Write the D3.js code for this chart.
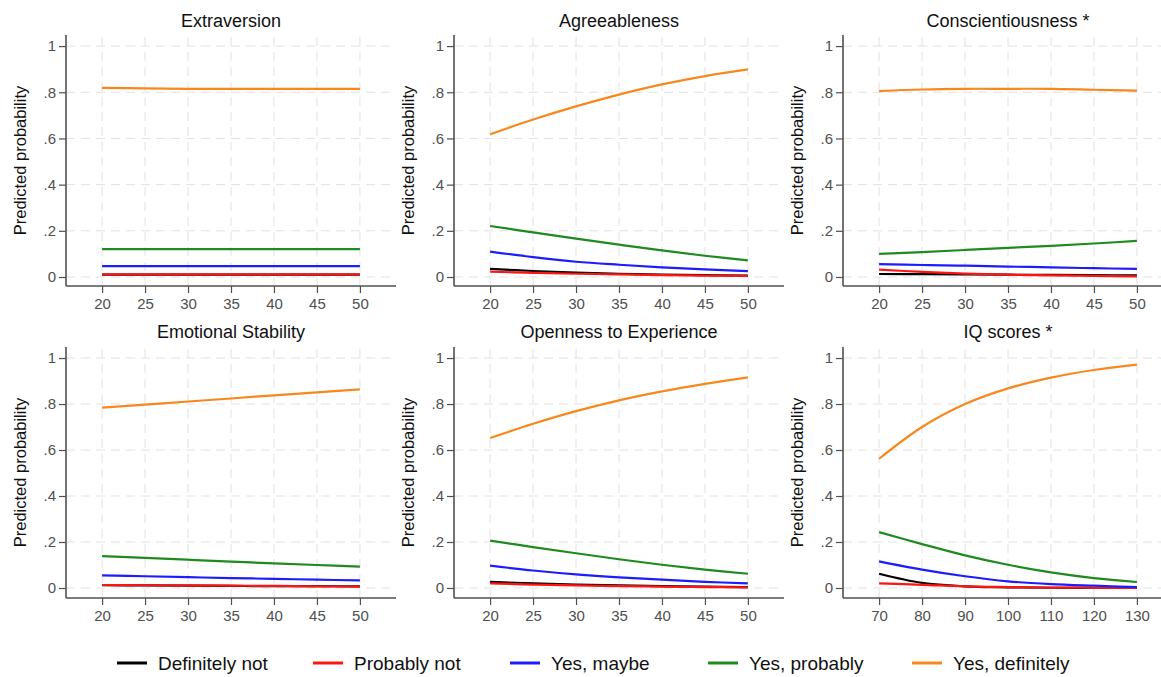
<!DOCTYPE html>
<meta charset="utf-8">
<html>
<script src="https://d3js.org/d3.v7.min.js"></script>
<style>
  body { margin: 0; background: #fff; }
  text { font-family: Arial, "Liberation Sans", sans-serif; }
</style>
<div id="chart"></div>
<script>

// outcome categories (legend) and line colours
var categories = ["Definitely not", "Probably not", "Yes, maybe", "Yes, probably", "Yes, definitely"];
var colors = ["#000000", "#ff1414", "#1c1cff", "#1f8a1f", "#f7881e"];

// x values
var ageX = [20, 25, 30, 35, 40, 45, 50];
var iqX = [70, 80, 90, 100, 110, 120, 130];
var ageTicks = [20, 25, 30, 35, 40, 45, 50];
var iqTicks = [70, 80, 90, 100, 110, 120, 130];
var yTicks = [0, 0.2, 0.4, 0.6, 0.8, 1];
var yTickLabels = ["0", ".2", ".4", ".6", ".8", "1"];

// predicted probabilities, one row per category (same order as categories)
var extraversion = [
  [0.010, 0.010, 0.010, 0.010, 0.010, 0.010, 0.010],
  [0.011, 0.011, 0.011, 0.011, 0.011, 0.011, 0.011],
  [0.047, 0.047, 0.047, 0.047, 0.047, 0.047, 0.047],
  [0.121, 0.121, 0.121, 0.121, 0.121, 0.121, 0.121],
  [0.819, 0.817, 0.815, 0.815, 0.815, 0.815, 0.815]
];
var agreeableness = [
  [0.035, 0.026, 0.019, 0.014, 0.010, 0.008, 0.006],
  [0.023, 0.018, 0.014, 0.011, 0.008, 0.006, 0.005],
  [0.110, 0.086, 0.066, 0.053, 0.042, 0.033, 0.025],
  [0.221, 0.193, 0.166, 0.140, 0.115, 0.092, 0.072],
  [0.618, 0.682, 0.739, 0.790, 0.834, 0.870, 0.899]
];
var conscientiousness = [
  [0.013, 0.012, 0.011, 0.010, 0.009, 0.008, 0.007],
  [0.032, 0.022, 0.015, 0.010, 0.007, 0.005, 0.003],
  [0.056, 0.052, 0.049, 0.045, 0.042, 0.038, 0.035],
  [0.100, 0.108, 0.117, 0.126, 0.135, 0.145, 0.156],
  [0.805, 0.812, 0.815, 0.815, 0.815, 0.811, 0.807]
];
var emotionalStability = [
  [0.012, 0.011, 0.010, 0.009, 0.008, 0.008, 0.007],
  [0.013, 0.012, 0.011, 0.010, 0.009, 0.007, 0.006],
  [0.055, 0.051, 0.047, 0.043, 0.040, 0.036, 0.033],
  [0.139, 0.131, 0.123, 0.115, 0.107, 0.100, 0.093],
  [0.784, 0.797, 0.811, 0.824, 0.838, 0.851, 0.864]
];
var openness = [
  [0.027, 0.020, 0.015, 0.011, 0.008, 0.006, 0.004],
  [0.020, 0.015, 0.011, 0.008, 0.006, 0.004, 0.003],
  [0.097, 0.076, 0.059, 0.046, 0.036, 0.027, 0.020],
  [0.206, 0.178, 0.151, 0.125, 0.101, 0.080, 0.062],
  [0.652, 0.714, 0.769, 0.816, 0.855, 0.888, 0.916]
];
var iqScores = [
  [0.062, 0.022, 0.007, 0.003, 0.001, 0.001, 0.001],
  [0.020, 0.014, 0.007, 0.004, 0.002, 0.001, 0.000],
  [0.116, 0.080, 0.051, 0.029, 0.017, 0.010, 0.004],
  [0.243, 0.191, 0.142, 0.101, 0.068, 0.043, 0.026],
  [0.562, 0.700, 0.800, 0.868, 0.915, 0.948, 0.971]
];

var panels = [
  {title: "Extraversion", x: ageX, ticks: ageTicks, vals: extraversion, col: 0, row: 0},
  {title: "Agreeableness", x: ageX, ticks: ageTicks, vals: agreeableness, col: 1, row: 0},
  {title: "Conscientiousness *", x: ageX, ticks: ageTicks, vals: conscientiousness, col: 2, row: 0},
  {title: "Emotional Stability", x: ageX, ticks: ageTicks, vals: emotionalStability, col: 0, row: 1},
  {title: "Openness to Experience", x: ageX, ticks: ageTicks, vals: openness, col: 1, row: 1},
  {title: "IQ scores *", x: iqX, ticks: iqTicks, vals: iqScores, col: 2, row: 1}
];

var width = 1161, height = 677;
var colLeft = [66, 454, 843];     // y axis position of each column
var plotW = 330;
var rows = [
  {bottom: 286, top: 35, dom: [-0.039, 1.048], titleY: 27, tickY: 308},
  {bottom: 598, top: 347, dom: [-0.0435, 1.048], titleY: 338, tickY: 619}
];

var svg = d3.select("#chart").append("svg")
  .attr("width", width)
  .attr("height", height);

panels.forEach(function(p) {
  var r = rows[p.row];
  var left = colLeft[p.col];
  var lo = p.ticks[0], hi = p.ticks[p.ticks.length - 1];
  var pad = (hi - lo) * 0.14;
  var x = d3.scaleLinear().domain([lo - pad, hi + pad]).range([left, left + plotW]);
  var y = d3.scaleLinear().domain(r.dom).range([r.bottom, r.top]);
  var g = svg.append("g");

  // gridlines
  g.selectAll(".hgrid").data(yTicks).enter().append("line")
    .attr("x1", left).attr("x2", left + plotW)
    .attr("y1", function(d) { return y(d); }).attr("y2", function(d) { return y(d); })
    .attr("stroke", "#e2e2e2").attr("stroke-width", 1).attr("stroke-dasharray", "9,6");
  g.selectAll(".vgrid").data(p.ticks).enter().append("line")
    .attr("x1", function(d) { return x(d); }).attr("x2", function(d) { return x(d); })
    .attr("y1", r.bottom).attr("y2", r.top)
    .attr("stroke", "#e2e2e2").attr("stroke-width", 1).attr("stroke-dasharray", "9,6");

  // axes
  var yAxis = d3.axisLeft(y).tickValues(yTicks).tickSize(7).tickPadding(3)
    .tickFormat(function(d, i) { return yTickLabels[i]; });
  var xAxis = d3.axisBottom(x).tickValues(p.ticks).tickSize(7).tickPadding(5)
    .tickFormat(d3.format("d"));

  var ya = g.append("g").attr("transform", "translate(" + left + ",0)").call(yAxis);
  var xa = g.append("g").attr("transform", "translate(0," + r.bottom + ")").call(xAxis);
  [ya, xa].forEach(function(a) {
    a.select(".domain").attr("stroke", "#505050").attr("stroke-width", 1.6).attr("d",
      a === ya ? "M0," + r.top + "V" + r.bottom : "M" + left + ",0H" + (left + plotW));
    a.selectAll(".tick line").attr("stroke", "#505050").attr("stroke-width", 1.2);
    a.selectAll(".tick text").attr("fill", "#505050").style("font-size", "15px")
      .style("font-family", "Arial, 'Liberation Sans', sans-serif");
  });

  // y axis title
  g.append("text")
    .attr("transform", "translate(" + (left - 40) + "," + ((r.top + r.bottom) / 2) + ") rotate(-90)")
    .attr("text-anchor", "middle")
    .attr("fill", "#111")
    .style("font-size", "16.5px")
    .text("Predicted probability");

  // panel title
  g.append("text")
    .attr("x", left + 165).attr("y", r.titleY)
    .attr("text-anchor", "middle")
    .attr("fill", "#111")
    .style("font-size", "18px")
    .text(p.title);

  // lines
  var line = d3.line()
    .x(function(d) { return x(d[0]); })
    .y(function(d) { return y(d[1]); })
    .curve(d3.curveCatmullRom.alpha(0.5));
  p.vals.forEach(function(v, k) {
    g.append("path")
      .datum(p.x.map(function(xx, i) { return [xx, v[i]]; }))
      .attr("d", line)
      .attr("fill", "none")
      .attr("stroke", colors[k])
      .attr("stroke-width", 2.2);
  });
});

// legend
var legendX = [117, 313, 510, 708, 912];
var legend = svg.selectAll(".legend").data(categories).enter().append("g")
  .attr("class", "legend")
  .attr("transform", function(d, i) { return "translate(" + legendX[i] + ",663)"; });
legend.append("line")
  .attr("x1", 0).attr("x2", 30).attr("y1", 0).attr("y2", 0)
  .attr("stroke", function(d, i) { return colors[i]; })
  .attr("stroke-width", 3);
legend.append("text")
  .attr("x", 41).attr("y", 6.5)
  .attr("fill", "#111")
  .style("font-size", "19px")
  .text(function(d) { return d; });

</script>
</html>
